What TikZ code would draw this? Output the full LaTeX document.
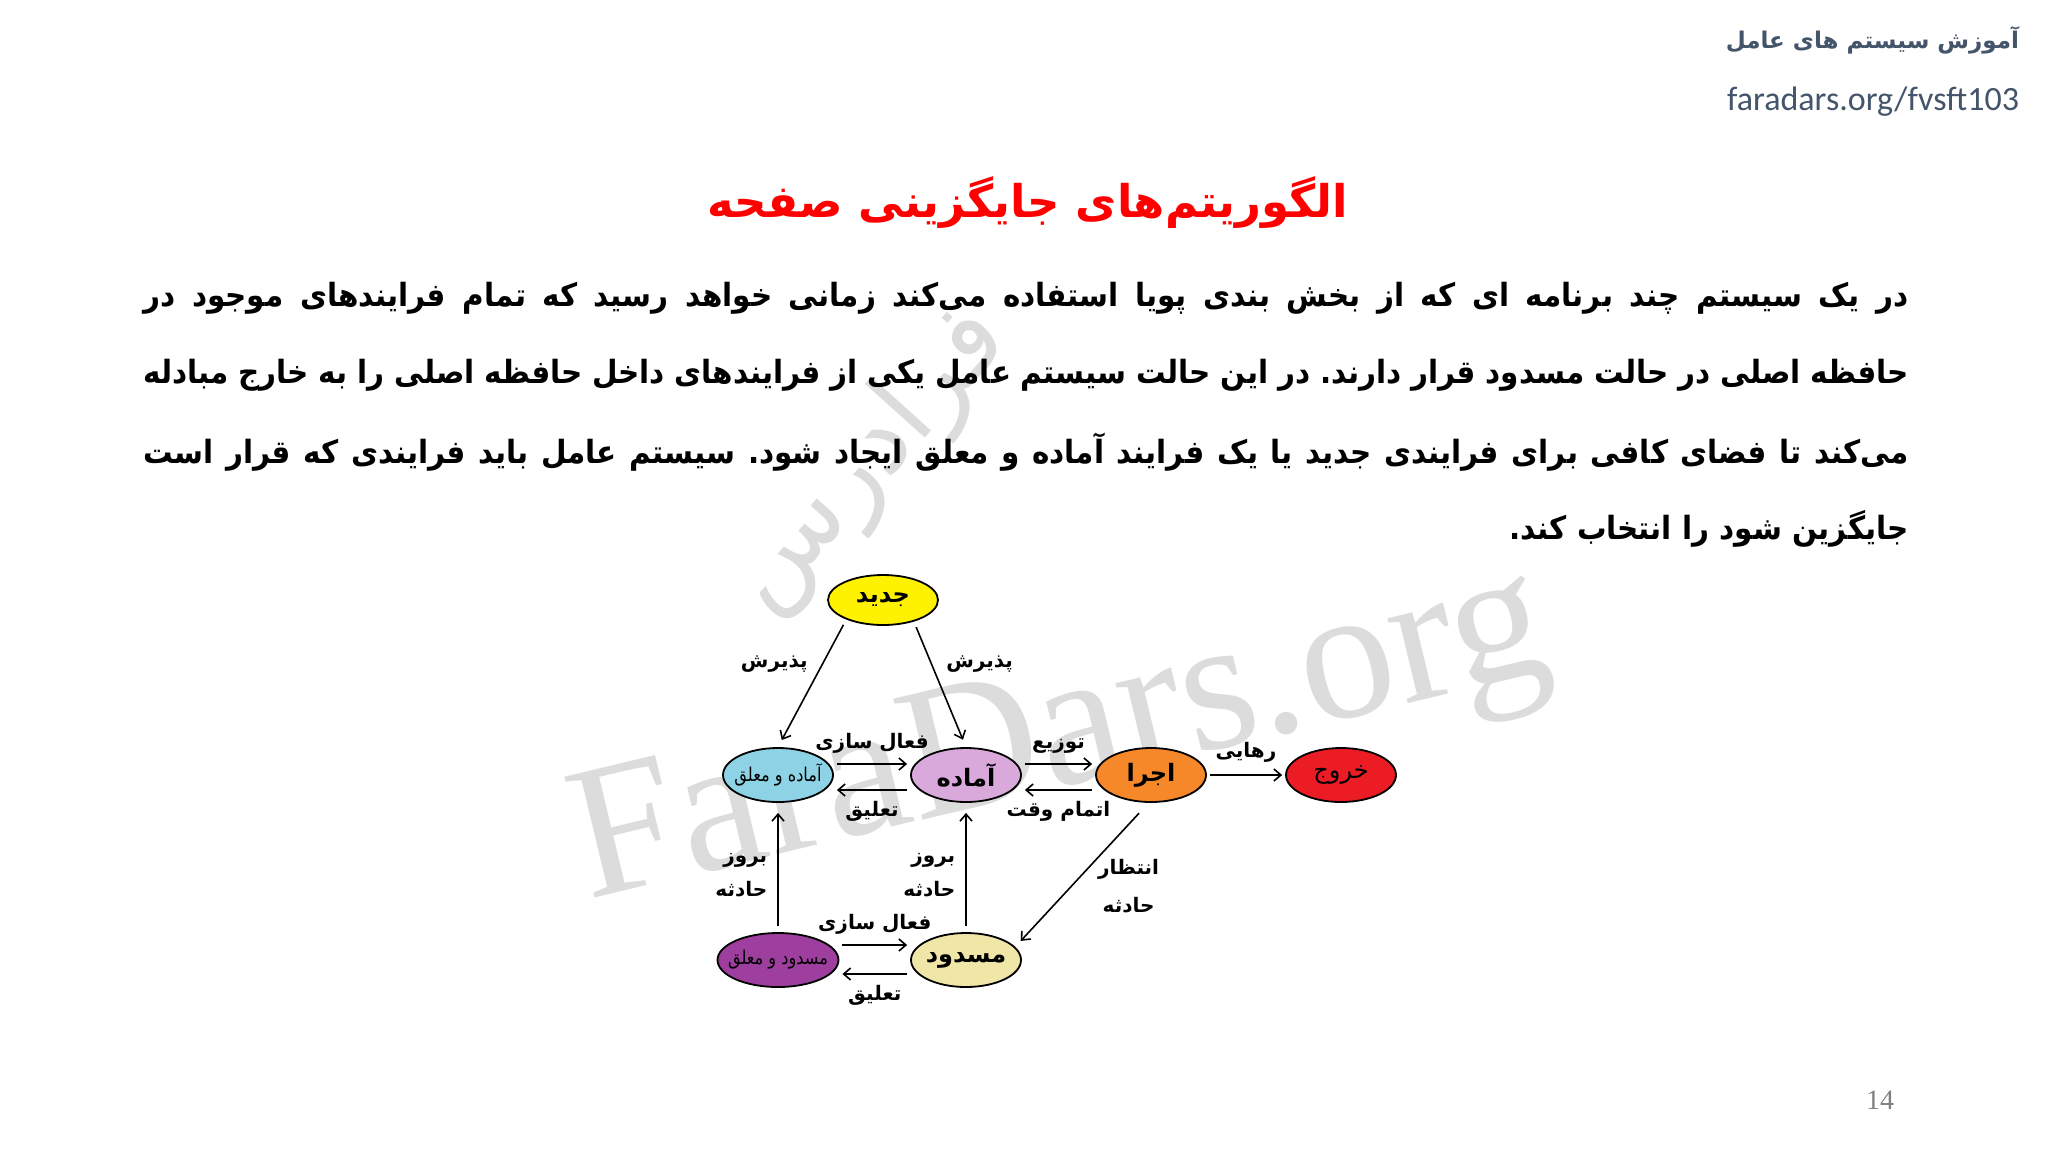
\documentclass[tikz,border=0pt]{standalone}
\usepackage{fontspec}
\setmainfont{Carlito}
\newfontfamily\farsi[Script=Arabic]{DejaVu Sans}
\newfontfamily\farsibody[Script=Arabic,FakeStretch=0.92]{DejaVu Sans}
\newfontfamily\farsinarrow[Script=Arabic,FakeStretch=0.85]{DejaVu Sans}
\newfontfamily\serifwm{Liberation Serif}
\TeXXeTstate=1
\frenchspacing
\usetikzlibrary{shapes.geometric,arrows.meta}
\definecolor{jadidcol}{HTML}{FFF200}
\definecolor{amsuspcol}{HTML}{8DD3E5}
\definecolor{amadehcol}{HTML}{D9A9DC}
\definecolor{ejracol}{HTML}{F7882A}
\definecolor{khorujcol}{HTML}{EC1C24}
\definecolor{mssuspcol}{HTML}{9E3E9E}
\definecolor{masdudcol}{HTML}{F0E6A8}
\definecolor{headcol}{HTML}{44546A}
\definecolor{wmcol}{HTML}{DCDCDC}
\newcommand\rtl[1]{\beginR#1\endR}
\newcommand\statetext[1]{\makebox[0pt]{\rtl{#1}}}
\newcommand\statefont{\farsi\bfseries\fontsize{12}{14}\selectfont}
\newcommand\thinstatefont{\farsinarrow\fontsize{9.5}{11}\selectfont}
\newcommand\labelfont{\farsi\bfseries\fontsize{10}{12}\selectfont}
\newcommand\bodyfont{\farsibody\bfseries\fontsize{16}{20}\selectfont}
\begin{document}
\begin{tikzpicture}[x=0.5pt,y=-0.5pt,
   >={Straight Barb[length=3.5pt,width=6pt]},
   state/.style={ellipse,draw,line width=0.9pt,minimum width=55pt,minimum height=27pt,inner sep=0pt,font=\statefont},
   to/.style={->,line width=0.8pt,shorten >=3pt,shorten <=3pt},
   side/.style={->,line width=0.8pt,shorten >=1.5pt,shorten <=1.5pt},
   lab/.style={font=\labelfont,inner sep=1pt},
   bodyline/.style={anchor=east,inner sep=0pt,font=\bodyfont}]
\fill[white] (0,0) rectangle (2048,1152);
\useasboundingbox (0,0) rectangle (2048,1152);
\node[rotate=13.5,anchor=base,text=wmcol,font=\serifwm\fontsize{95}{100}\selectfont] (wmlatin) at (1072,784) {FaraDars.org};
\node[rotate=48,text=wmcol,font=\farsi\fontsize{53}{60}\selectfont] (wmfarsi) at (868,460) {\rtl{فرادرس}};
\node[anchor=east,text=headcol,font=\farsi\bfseries\fontsize{11.5}{14}\selectfont] (course) at (2026,40) {\rtl{آموزش سیستم های عامل}};
\node[anchor=east,text=headcol,font=\fontsize{17}{20}\selectfont] (url) at (2026,102) {faradars.org/fvsft103};
\node[text=red,font=\farsi\bfseries\fontsize{22.5}{27}\selectfont] (title) at (1028,203) {\rtl{الگوریتم‌های جایگزینی صفحه}};
\node[bodyline] (line1) at (1909,298) {\hbox to 882.5pt{\rtl{در یک سیستم چند برنامه ای که از بخش بندی پویا استفاده می‌کند زمانی خواهد رسید که تمام فرایندهای موجود در}}};
\node[bodyline] (line2) at (1909,375) {\hbox to 882.5pt{\rtl{حافظه اصلی در حالت مسدود قرار دارند. در این حالت سیستم عامل یکی از فرایندهای داخل حافظه اصلی را به خارج مبادله}}};
\node[bodyline] (line3) at (1909,452) {\hbox to 882.5pt{\rtl{می‌کند تا فضای کافی برای فرایندی جدید یا یک فرایند آماده و معلق ایجاد شود. سیستم عامل باید فرایندی که قرار است}}};
\node[bodyline] (line4) at (1909,529) {\rtl{جایگزین شود را انتخاب کند.}};
\node[state,fill=jadidcol,minimum height=25pt] (jadid) at (883,600) {\statetext{جدید}};
\node[state,fill=amsuspcol,font=\thinstatefont] (amsusp) at (778,775) {\statetext{آماده و معلق}};
\node[state,fill=amadehcol] (amadeh) at (966,775) {\statetext{آماده}};
\node[state,fill=ejracol] (ejra) at (1151,775) {\statetext{اجرا}};
\node[state,fill=khorujcol,font=\farsi\fontsize{12}{14}\selectfont] (khoruj) at (1341,775) {\statetext{خروج}};
\node[state,fill=mssuspcol,minimum width=60.5pt,font=\thinstatefont] (mssusp) at (778,960) {\statetext{مسدود و معلق}};
\node[state,fill=masdudcol] (masdud) at (966,960) {\statetext{مسدود}};
\draw[to,shorten >=4pt] (jadid.208) to node[lab,pos=0.35,left=6pt] {\rtl{پذیرش}} (amsusp.north);
\draw[to,shorten >=4pt] (jadid.325) to node[lab,pos=0.34,right=6pt] {\rtl{پذیرش}} (amadeh.north);
\draw[side] ([yshift=5.5pt]amsusp.east) to node[lab,above=4pt] {\rtl{فعال سازی}} ([yshift=5.5pt]amadeh.west);
\draw[side] ([yshift=-7.5pt]amadeh.west) to node[lab,below=4pt] {\rtl{تعلیق}} ([yshift=-7.5pt]amsusp.east);
\draw[side] ([yshift=5.5pt]amadeh.east) to node[lab,above=4pt] {\rtl{توزیع}} ([yshift=5.5pt]ejra.west);
\draw[side] ([yshift=-7.5pt]ejra.west) to node[lab,below=4pt] {\rtl{اتمام وقت}} ([yshift=-7.5pt]amadeh.east);
\draw[side] (ejra.east) to node[lab,above=5pt] {\rtl{رهایی}} (khoruj.west);
\draw[to,shorten <=7pt,shorten >=4pt] (ejra.265) to node[lab,pos=0.58,right=12pt,align=center] {\rtl{انتظار}\\[7pt]\rtl{حادثه}} (masdud.15);
\draw[to,shorten >=5pt] (mssusp.north) to node[lab,pos=0.44,left=4pt,align=right] {\rtl{بروز}\\[5pt]\rtl{حادثه}} (amsusp.south);
\draw[to,shorten >=5pt] (masdud.north) to node[lab,pos=0.44,left=4pt,align=right] {\rtl{بروز}\\[5pt]\rtl{حادثه}} (amadeh.south);
\draw[side] ([yshift=7.5pt]mssusp.east) to node[lab,above=4pt] {\rtl{فعال سازی}} ([yshift=7.5pt]masdud.west);
\draw[side] ([yshift=-7pt]masdud.west) to node[lab,below=4pt] {\rtl{تعلیق}} ([yshift=-7pt]mssusp.east);
\node[text=gray,font=\serifwm\fontsize{14}{16}\selectfont] (pagenum) at (1880,1100) {14};
\end{tikzpicture}
\end{document}
